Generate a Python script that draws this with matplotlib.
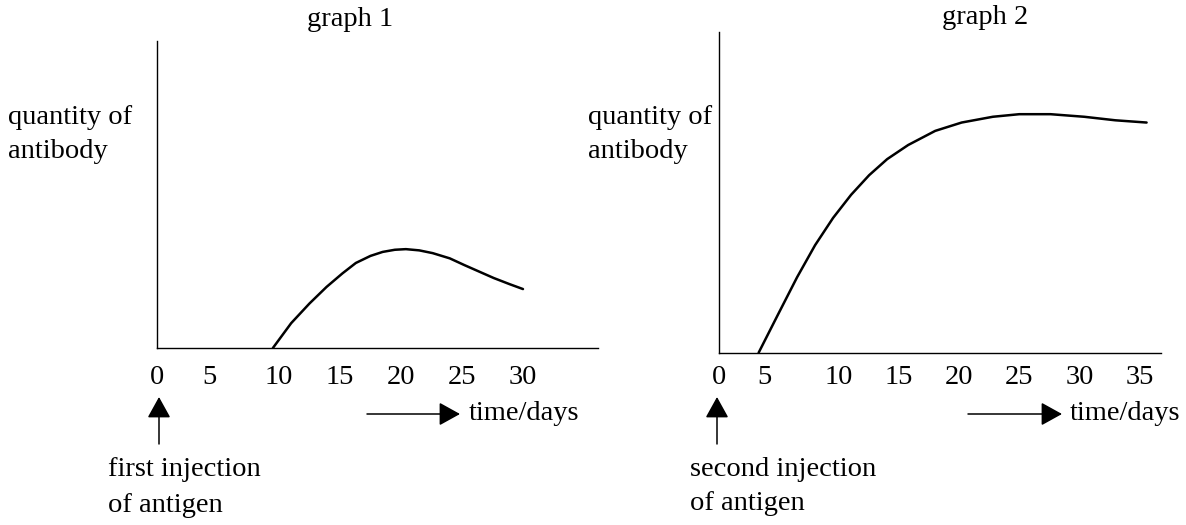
import matplotlib
matplotlib.use("Agg")
import matplotlib.pyplot as plt
from matplotlib.transforms import ScaledTranslation

plt.rcParams['font.family'] = ['Liberation Serif', 'DejaVu Serif']

# graph 1: primary response (days after first injection, relative quantity)
days_1 = [9.5, 11.0, 12.5, 13.9, 15.2, 16.3, 17.5, 18.5, 19.5, 20.4,
          21.5, 22.6, 24.0, 25.2, 26.4, 27.6, 28.9, 30.0]
quantity_1 = [0, 8.1, 14.5, 19.9, 24.3, 27.7, 30.0, 31.3, 32.0, 32.2,
              31.8, 30.9, 29.2, 27.0, 24.9, 22.8, 20.8, 19.2]
ticks_1 = [0, 5, 10, 15, 20, 25, 30]

# graph 2: secondary response (days after second injection)
days_2 = [3.3, 4.9, 6.5, 8.0, 9.5, 11.0, 12.5, 14.0, 15.75, 18.0, 20.2,
          22.8, 25.0, 27.6, 30.4, 33.0, 35.6]
quantity_2 = [0, 11.8, 23.5, 33.5, 42.0, 49.2, 55.3, 60.3, 64.7, 69.1, 71.7,
              73.5, 74.3, 74.3, 73.5, 72.4, 71.7]
ticks_2 = [0, 5, 10, 15, 20, 25, 30, 35]

W, H = 1186, 525
fs = 20.5

fig = plt.figure(figsize=(W / 100, H / 100), dpi=100)


def make_axes(left, top, right, bottom, xmax, ticks, pad, shift5):
    ax = fig.add_axes([left / W, 1 - bottom / H, (right - left) / W, (bottom - top) / H])
    ax.set_xlim(0, xmax)
    ax.set_ylim(0, 100)
    for side in ['top', 'right']:
        ax.spines[side].set_visible(False)
    for side in ['left', 'bottom']:
        ax.spines[side].set_linewidth(1.0)
    ax.set_yticks([])
    ax.set_xticks(ticks)
    ax.set_xticklabels([str(t) for t in ticks])
    ax.tick_params(axis='x', length=0, pad=pad, labelsize=fs)
    # the "5" label sits closer to "0" in the original
    lab = ax.get_xticklabels()[1]
    lab.set_transform(lab.get_transform() +
                      ScaledTranslation(shift5 / 100, 0, fig.dpi_scale_trans))
    ax.patch.set_alpha(0)
    return ax


def ftext(x, y, s, ha='left'):
    # x, y in pixels from the top-left corner
    fig.text(x / W, 1 - y / H, s, ha=ha, va='center', fontsize=fs)


def farrow(x0, y0, x1, y1):
    fig.add_artist(matplotlib.patches.FancyArrowPatch(
        (x0 / W, 1 - y0 / H), (x1 / W, 1 - y1 / H), transform=fig.transFigure,
        arrowstyle='-|>,head_length=1.3,head_width=0.72', mutation_scale=10,
        lw=1.1, color='black', shrinkA=0, shrinkB=0))


ax1 = make_axes(157, 41, 598, 348, 36.15, ticks_1, 12, -9)
ax1.plot(days_1, quantity_1, color='black', lw=1.8, solid_capstyle='round')

ax2 = make_axes(719, 31.7, 1161, 352.7, 36.8, ticks_2, 8.5, -15)
ax2.plot(days_2, quantity_2, color='black', lw=1.8, solid_capstyle='round')

# titles
ftext(350, 20, 'graph 1', ha='center')
ftext(985, 17, 'graph 2', ha='center')

# y labels
ftext(8, 117, 'quantity of')
ftext(8, 152, 'antibody')
ftext(588, 117, 'quantity of')
ftext(588, 152, 'antibody')

# injection arrows and notes
farrow(159, 444, 159, 397)
ftext(108, 470, 'first injection')
ftext(108, 505, 'of antigen')
farrow(717, 444, 717, 397)
ftext(690, 469, 'second injection')
ftext(690, 503, 'of antigen')

# time arrows
farrow(367, 414, 460, 414)
ftext(469, 414, 'time/days')
farrow(968, 414, 1062, 414)
ftext(1070, 414, 'time/days')

plt.savefig('out.png', dpi=100, facecolor='white')
